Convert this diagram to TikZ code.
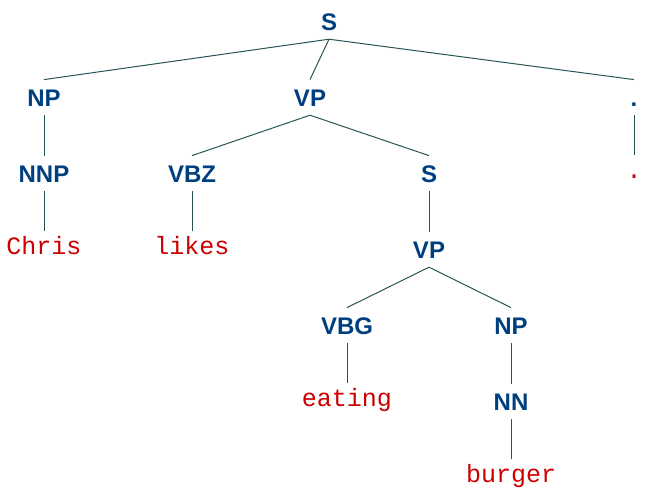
\documentclass[tikz,border=0pt]{standalone}
\usepackage{fontspec}
\setmainfont{Liberation Sans}
\newfontfamily\labfont{Liberation Sans}
\newfontfamily\wordfont{Liberation Mono}
\definecolor{labblue}{RGB}{0,63,127}
\definecolor{wordred}{RGB}{204,0,0}
\definecolor{edgecol}{RGB}{40,85,85}
\tikzset{
  lab/.style={font=\labfont\bfseries\fontsize{24}{28}\selectfont, text=labblue, anchor=base,
    text height=17.2pt, text depth=0pt, inner xsep=0pt, inner ysep=9pt},
  word/.style={font=\wordfont\fontsize{25}{30}\selectfont, text=wordred, anchor=base,
    text height=16pt, text depth=0pt, inner xsep=0pt, inner ysep=7pt},
  edge/.style={draw=edgecol, line width=1pt}
}
\begin{document}
\begin{tikzpicture}[x=1pt,y=-1pt]
\useasboundingbox (0,0) rectangle (650,493);
% labels
\node[lab] (S)   at (329,30)  {S};
\node[lab] (NP)  at (44,106)  {NP};
\node[lab] (VP)  at (310,106) {VP};
\node[lab] (PL)  at (634,106) {.};
\node[lab] (NNP) at (44,182)  {NNP};
\node[lab] (VBZ) at (192,182) {VBZ};
\node[lab] (S2)  at (429,182) {S};
\node[lab] (VP2) at (429,258) {VP};
\node[lab] (VBG) at (347,334) {VBG};
\node[lab] (NP2) at (511,334) {NP};
\node[lab] (NN)  at (511,410) {NN};
% words
\node[word] (w1) at (44,254)  {Chris};
\node[word] (w2) at (192,254) {likes};
\node[word] (w3) at (634,178) {.};
\node[word] (w4) at (347,406) {eating};
\node[word] (w5) at (511,482) {burger};
% edges
\draw[edge] (S.south) -- (NP.north);
\draw[edge] (S.south) -- (VP.north);
\draw[edge] (S.south) -- (PL.north);
\draw[edge] (NP.south) -- (NNP.north);
\draw[edge] (NNP.south) -- (w1.north);
\draw[edge] (VP.south) -- (VBZ.north);
\draw[edge] (VP.south) -- (S2.north);
\draw[edge] (VBZ.south) -- (w2.north);
\draw[edge] (PL.south) -- (w3.north);
\draw[edge] (S2.south) -- (VP2.north);
\draw[edge] (VP2.south) -- (VBG.north);
\draw[edge] (VP2.south) -- (NP2.north);
\draw[edge] (VBG.south) -- (w4.north);
\draw[edge] (NP2.south) -- (NN.north);
\draw[edge] (NN.south) -- (w5.north);
\end{tikzpicture}
\end{document}
